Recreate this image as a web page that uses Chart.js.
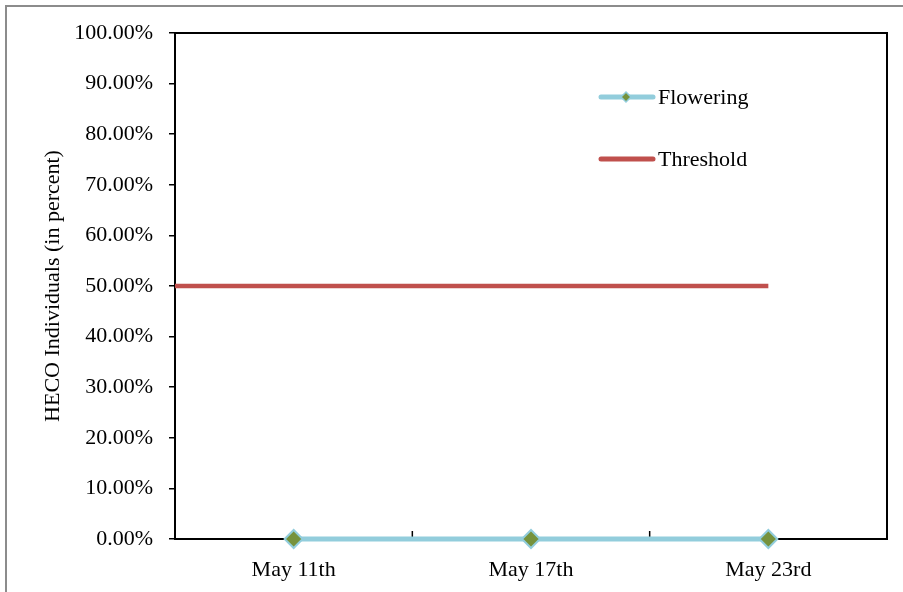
<!DOCTYPE html>
<html><head><meta charset="utf-8">
<script src="https://cdn.jsdelivr.net/npm/chart.js@4/dist/chart.umd.min.js"></script>
<style>
html,body{margin:0;padding:0;background:#fff;}
#wrap{position:relative;width:903px;height:592px;}
#frame{position:absolute;left:5px;top:5px;width:910px;height:600px;border-left:2px solid #8c8c8c;border-top:2px solid #8c8c8c;pointer-events:none;}
canvas{position:absolute;left:0;top:0;}
</style></head>
<body><div id="wrap"><canvas id="c" width="903" height="592"></canvas><div id="frame"></div></div>
<script>
const categories = ["May 11th", "May 17th", "May 23rd"];
const flowering = [0, 0, 0];
const thresholdX = [-0.5, 2];
const thresholdY = [0.5, 0.5];
const yTicks = [0,0.1,0.2,0.3,0.4,0.5,0.6,0.7,0.8,0.9,1.0];

const FONT = "'Liberation Serif', serif";

const framePlugin = {
  id: 'framePlugin',
  beforeDatasetsDraw(chart) {
    const {ctx, chartArea:a, scales:{x}} = chart;
    ctx.save();
    ctx.strokeStyle = '#000';
    ctx.lineWidth = 2;
    ctx.strokeRect(a.left, a.top, a.right - a.left, a.bottom - a.top);
    ctx.lineWidth = 1.5;
    for (let i = 0; i < categories.length - 1; i++) {
      const px = (x.getPixelForValue(i) + x.getPixelForValue(i + 1)) / 2;
      ctx.beginPath(); ctx.moveTo(px, a.bottom); ctx.lineTo(px, a.bottom - 8); ctx.stroke();
    }
    ctx.restore();
  },
  afterDraw(chart) {
    const ctx = chart.ctx;
    const items = [
      {label: 'Flowering', color: '#92CDDC', y: 97, marker: true},
      {label: 'Threshold', color: '#C0504D', y: 159, marker: false}
    ];
    ctx.save();
    items.forEach(it => {
      ctx.strokeStyle = it.color; ctx.lineWidth = 5; ctx.lineCap = 'round';
      ctx.beginPath(); ctx.moveTo(601, it.y); ctx.lineTo(653, it.y); ctx.stroke();
      if (it.marker) {
        ctx.fillStyle = '#76923C'; ctx.strokeStyle = '#92CDDC'; ctx.lineWidth = 1.5;
        ctx.beginPath(); ctx.moveTo(626, it.y - 5); ctx.lineTo(631, it.y); ctx.lineTo(626, it.y + 5); ctx.lineTo(621, it.y); ctx.closePath(); ctx.fill(); ctx.stroke();
      }
      ctx.fillStyle = '#000'; ctx.font = "22px " + FONT; ctx.textBaseline = 'middle'; ctx.textAlign = 'left';
      ctx.fillText(it.label, 658, it.y + 1);
    });
    ctx.restore();
  }
};

new Chart(document.getElementById('c'), {
  type: 'line',
  data: {
    labels: categories,
    datasets: [
      {
        label: 'Threshold',
        data: thresholdX.map((v, i) => ({x: v, y: thresholdY[i]})),
        xAxisID: 'x2',
        borderColor: '#C0504D', borderWidth: 4.5, pointRadius: 0, fill: false, order: 2
      },
      {
        label: 'Flowering',
        data: flowering,
        xAxisID: 'x',
        borderColor: '#92CDDC', borderWidth: 5,
        pointStyle: 'rectRot', pointRadius: 9, pointHoverRadius: 9,
        pointBackgroundColor: '#76923C', pointBorderColor: '#92CDDC', pointBorderWidth: 2,
        fill: false, order: 1
      }
    ]
  },
  options: {
    responsive: false, animation: false, devicePixelRatio: 1,
    clip: false,
    layout: {padding: {left: 0, top: 33, right: 16, bottom: 0}},
    plugins: {legend: {display: false}, tooltip: {enabled: false}},
    scales: {
      x: {
        type: 'category', offset: true,
        grid: {display: false},
        border: {display: false},
        ticks: {color: '#000', font: {family: FONT, size: 22}, padding: 10, maxRotation: 0},
        afterFit(s) { s.height = 53; }
      },
      x2: {
        type: 'linear', display: false, min: -0.5, max: 2.5
      },
      y: {
        min: 0, max: 1,
        afterBuildTicks(s) { s.ticks = yTicks.map(v => ({value: v})); },
        grid: {drawOnChartArea: false, tickLength: 6, color: '#000', lineWidth: 1.5},
        border: {display: false},
        ticks: {color: '#000', font: {family: FONT, size: 22}, padding: 16,
          callback: v => (v * 100).toFixed(2) + '%'},
        title: {display: true, text: 'HECO Individuals (in percent)', color: '#000',
          font: {family: FONT, size: 22}, padding: {top: 40, bottom: 0}},
        afterFit(s) { s.width = 175; }
      }
    }
  },
  plugins: [framePlugin]
});
</script></body></html>
